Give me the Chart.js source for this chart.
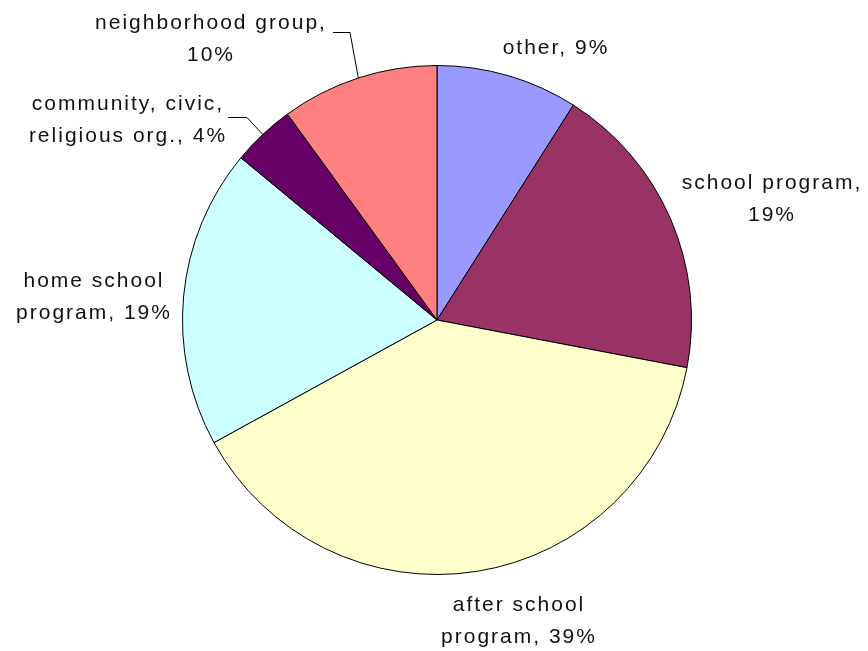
<!DOCTYPE html>
<html lang="en">
<head>
<meta charset="UTF-8">
<title>Program types</title>
<script src="https://cdn.jsdelivr.net/npm/chart.js@4/dist/chart.umd.min.js"></script>
<style>
  html, body { margin: 0; padding: 0; background: #fff; }
  #wrap { width: 868px; height: 651px; }
</style>
</head>
<body>
<div id="wrap"><canvas id="pie"></canvas></div>
<script>
// slices, clockwise from 12 o'clock
const categories = ['other', 'school program', 'after school program', 'home school program', 'community, civic, religious org.', 'neighborhood group'];
const shares = [9, 19, 39, 19, 4, 10];
const colors = ['#9999FF', '#993366', '#FFFFCC', '#CCFFFF', '#660066', '#FF8080'];

// label text lines and where they sit (x = centre, y = baseline of each line)
const labelLines = [
  ['other, 9%'],
  ['school program,', '19%'],
  ['after school', 'program, 39%'],
  ['home school', 'program, 19%'],
  ['community, civic,', 'religious org., 4%'],
  ['neighborhood group,', '10%']
];
const labelPos = [
  { x: 556, y: [54] },
  { x: 772, y: [189, 221] },
  { x: 519, y: [611, 643] },
  { x: 94, y: [287, 319] },
  { x: 128, y: [110, 142] },
  { x: 211, y: [29, 61] }
];
// leader lines: start of the horizontal tick and the elbow
const leaders = [null, null, null, null,
  { x0: 228, x1: 247, y: 117 },
  { x0: 333, x1: 350, y: 32 }
];

const pieLabels = {
  id: 'pieLabels',
  afterDraw(chart) {
    const ctx = chart.ctx;
    const arcs = chart.getDatasetMeta(0).data;
    ctx.save();
    ctx.fillStyle = '#111';
    ctx.font = '21px "Liberation Sans", Arial, sans-serif';
    ctx.letterSpacing = '2px';
    ctx.textAlign = 'center';
    ctx.textBaseline = 'alphabetic';
    labelLines.forEach((lines, i) => {
      lines.forEach((t, j) => ctx.fillText(t, labelPos[i].x, labelPos[i].y[j]));
    });
    ctx.strokeStyle = '#000';
    ctx.lineWidth = 1;
    leaders.forEach((l, i) => {
      if (!l) return;
      const a = arcs[i];
      const mid = (a.startAngle + a.endAngle) / 2;
      const ex = a.x + Math.cos(mid) * a.outerRadius;
      const ey = a.y + Math.sin(mid) * a.outerRadius;
      ctx.beginPath();
      ctx.moveTo(l.x0, l.y + 0.5);
      ctx.lineTo(l.x1, l.y + 0.5);
      ctx.lineTo(ex, ey);
      ctx.stroke();
    });
    ctx.restore();
  }
};

new Chart(document.getElementById('pie'), {
  type: 'pie',
  data: {
    labels: categories,
    datasets: [{
      data: shares,
      backgroundColor: colors,
      borderColor: '#000',
      borderWidth: 1
    }]
  },
  options: {
    responsive: true,
    maintainAspectRatio: false,
    animation: false,
    layout: { padding: { left: 182, right: 176, top: 65, bottom: 76 } },
    plugins: { legend: { display: false }, tooltip: { enabled: false } }
  },
  plugins: [pieLabels]
});
</script>
</body>
</html>
